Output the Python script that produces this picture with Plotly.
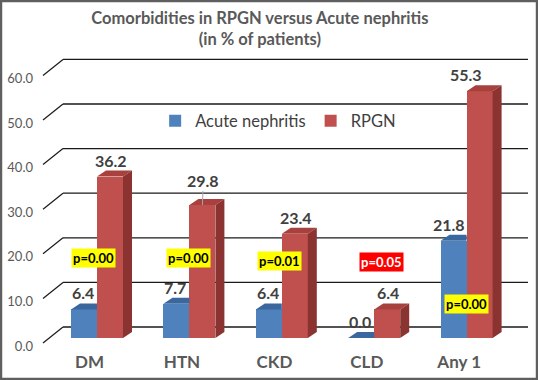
import plotly.graph_objects as go

categories = ["DM", "HTN", "CKD", "CLD", "Any 1"]
acute_nephritis = [6.4, 7.7, 6.4, 0.0, 21.8]
rpgn = [36.2, 29.8, 23.4, 6.4, 55.3]
p_values = ["p=0.00", "p=0.00", "p=0.01", "p=0.05", "p=0.00"]
y_ticks = [0, 10, 20, 30, 40, 50, 60]

# ---- styling / geometry (pixel-derived, in axis units) ----
W, H = 538, 380
ML, MR, MT, MB = 40, 8, 55, 30
X0PX, XSTEP = 97.0, 92.4          # category centre px and spacing
Y0PX, YSCALE = 343.0, 4.46        # front-plane zero px and px/unit
xr = [(ML - X0PX) / XSTEP, (W - MR - X0PX) / XSTEP]
yr = [(Y0PX - (H - MB)) / YSCALE, (Y0PX - MT) / YSCALE]
BW = 26 / XSTEP          # bar width
BASE = 5 / YSCALE        # bars sit slightly behind the front plane
DX, DY = 9 / XSTEP, 6 / YSCALE    # bar depth
WALL_DY = 16 / YSCALE
GRID_L = (63 - X0PX) / XSTEP
GRID_F = (43 - X0PX) / XSTEP
GRID_R = (528 - X0PX) / XSTEP

BLUE, BLUE_TOP = "#4F81BD", "#3A679D"
RED, RED_TOP, RED_SIDE = "#C0504D", "#A8403D", "#8A3331"
TXT = "#404040"
FONT = "Lato"

xs = list(range(len(categories)))
fig = go.Figure()

# front faces
fig.add_trace(go.Bar(x=xs, y=acute_nephritis, base=BASE, offset=-BW, width=BW,
                     marker=dict(color=BLUE, line=dict(width=0)), name="Acute nephritis"))
fig.add_trace(go.Bar(x=xs, y=rpgn, base=BASE, offset=0, width=BW,
                     marker=dict(color=RED, line=dict(width=0)), name="RPGN"))

# top / side faces computed from the data
bx, by = [], []
for i, v in zip(xs, acute_nephritis):
    t = v + BASE
    bx += [i - BW, i, i, i - BW + DX, i - BW, None]
    by += [t, t, t + DY, t + DY, t, None]
fig.add_trace(go.Scatter(x=bx, y=by, fill="toself", fillcolor=BLUE_TOP, mode="lines",
                         line=dict(width=0), showlegend=False, hoverinfo="skip"))
rx, ry, sx, sy = [], [], [], []
for i, v in zip(xs, rpgn):
    t = v + BASE
    rx += [i, i + BW, i + BW + DX, i + DX, i, None]
    ry += [t, t, t + DY, t + DY, t, None]
    sx += [i + BW, i + BW + DX, i + BW + DX, i + BW, i + BW, None]
    sy += [BASE, BASE + DY, t + DY, t, BASE, None]
fig.add_trace(go.Scatter(x=rx, y=ry, fill="toself", fillcolor=RED_TOP, mode="lines",
                         line=dict(width=0), showlegend=False, hoverinfo="skip"))
fig.add_trace(go.Scatter(x=sx, y=sy, fill="toself", fillcolor=RED_SIDE, mode="lines",
                         line=dict(width=0), showlegend=False, hoverinfo="skip"))

# back-wall gridlines and diagonal floor/wall edges
for v in y_ticks:
    fig.add_shape(type="line", x0=GRID_L, x1=GRID_R, y0=v + WALL_DY, y1=v + WALL_DY,
                  line=dict(color="#1a1a1a", width=1.3), layer="below")
    fig.add_shape(type="line", x0=GRID_F, x1=GRID_L, y0=v, y1=v + WALL_DY,
                  line=dict(color="#1a1a1a", width=1.3), layer="below")

# data labels
LBL = dict(family=FONT, size=16, color=TXT, weight="bold")
for i, v in zip(xs, acute_nephritis):
    fig.add_annotation(x=i - BW / 2, y=v + BASE + DY, text=f"{v:.1f}", showarrow=False,
                       yanchor="bottom", yshift=-1, xshift=-1 if i != 4 else -5, font=LBL)
for i, v in zip(xs, rpgn):
    if i == 1:
        fig.add_annotation(x=i + BW / 2, y=v + BASE, text=f"{v:.1f}", showarrow=True,
                           arrowhead=0, arrowwidth=1, arrowcolor="#a6a6a6", ax=1, ay=-25,
                           font=LBL)
    else:
        fig.add_annotation(x=i + BW / 2, y=v + BASE + DY, text=f"{v:.1f}", showarrow=False,
                           yanchor="bottom", yshift=-1, xshift=-14 if i == 4 else 1, font=LBL)

# p-value boxes
p_y = [19.0, 19.0, 18.4, 18.2, 8.7]
p_dx = [-3.5, -1, -2, 7.5, 0]
for i, (p, yy, dx) in enumerate(zip(p_values, p_y, p_dx)):
    sig = p != "p=0.05"
    fig.add_annotation(x=i, y=yy, text=p, showarrow=False, xshift=dx,
                       bgcolor="#FFFF00" if sig else "#FF0000", borderpad=1,
                       font=dict(family=FONT, size=13, weight="bold",
                                 color="#000000" if sig else "#FFFFFF"))

fig.update_layout(
    width=W, height=H,
    margin=dict(l=ML, r=MR, t=MT, b=MB, autoexpand=False),
    paper_bgcolor="white", plot_bgcolor="white",
    barmode="overlay", bargap=0,
    title=dict(text="Comorbidities in RPGN versus Acute nephritis<br>(in % of patients)",
               x=0.483, xanchor="center", y=1 - 24 / H, yanchor="middle",
               font=dict(family=FONT, size=16.5, color="#595959", weight="bold")),
    showlegend=True,
    legend=dict(orientation="h", x=0.235, xanchor="left", y=(H - MB - 121) / (H - MT - MB),
                yanchor="middle",
                font=dict(family=FONT, size=16.5, color=TXT), bgcolor="rgba(0,0,0,0)",
                itemwidth=30, traceorder="normal"),
    xaxis=dict(range=xr, tickvals=[i - 0.08 for i in xs], ticktext=categories,
               showgrid=False, zeroline=False, showline=False, ticks="", automargin=False,
               tickfont=dict(family=FONT, size=17, color="#595959", weight="bold")),
    yaxis=dict(range=yr, tickvals=y_ticks, ticktext=[f"{v:.1f}" for v in y_ticks],
               showgrid=False, zeroline=False, showline=False, ticks="", automargin=False,
               ticklabelstandoff=6, ticklabelshift=3,
               tickfont=dict(family=FONT, size=13, color="#595959")),
)
fig.add_shape(type="rect", xref="x domain", yref="y domain",
              x0=-ML / (W - ML - MR) + 0.002, x1=1 + MR / (W - ML - MR) - 0.002,
              y0=-MB / (H - MT - MB) + 0.003, y1=1 + MT / (H - MT - MB) - 0.003,
              line=dict(color="#5f5f5f", width=2.5), layer="above")

fig.write_html("out.html", config={"displayModeBar": False},
               post_script="document.body.style.margin='0';")
